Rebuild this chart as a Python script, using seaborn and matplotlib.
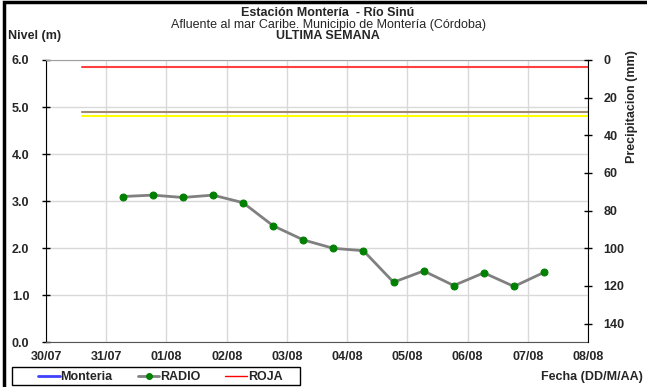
import pandas as pd
import numpy as np
import matplotlib
matplotlib.use('Agg')
import matplotlib.pyplot as plt
import matplotlib.dates as mdates
from matplotlib.lines import Line2D
from matplotlib.patches import Rectangle
import seaborn as sns

# Data
fechas = ['2013-07-31 06:30', '2013-07-31 18:30', '2013-08-01 06:30', '2013-08-01 18:30',
          '2013-08-02 06:30', '2013-08-02 18:30', '2013-08-03 06:30', '2013-08-03 18:30',
          '2013-08-04 06:30', '2013-08-04 18:30', '2013-08-05 06:30', '2013-08-05 18:30',
          '2013-08-06 06:30', '2013-08-06 18:30', '2013-08-07 06:30']
nivel_radio = [3.10, 3.13, 3.08, 3.13, 2.97, 2.48, 2.18, 2.00, 1.95, 1.28, 1.52, 1.21, 1.48, 1.19, 1.49]

umbral_fechas = ['2013-07-30 14:30', '2013-08-08 21:30']
nivel_roja = 5.86
nivel_naranja = 4.90
nivel_amarilla = 4.80

dias = ['2013-07-30', '2013-07-31', '2013-08-01', '2013-08-02', '2013-08-03',
        '2013-08-04', '2013-08-05', '2013-08-06', '2013-08-07', '2013-08-08']
precip_ticks = [0, 20, 40, 60, 80, 100, 120, 140]

df = pd.DataFrame({'Fecha': pd.to_datetime(fechas), 'Nivel': nivel_radio})
umbrales = pd.DataFrame({
    'Fecha': pd.to_datetime(umbral_fechas * 3),
    'Nivel': [nivel_roja] * 2 + [nivel_naranja] * 2 + [nivel_amarilla] * 2,
    'Alerta': ['ROJA'] * 2 + ['NARANJA'] * 2 + ['AMARILLA'] * 2,
})

sns.set_style('white')
plt.rcParams['font.family'] = ['Liberation Sans', 'DejaVu Sans']

fig = plt.figure(figsize=(6.47, 3.87), dpi=100)
ax = fig.add_axes([0.0711, 0.115, 0.8377, 0.730])

# Threshold lines
sns.lineplot(data=umbrales, x='Fecha', y='Nivel', hue='Alerta',
             palette={'ROJA': '#ff4040', 'NARANJA': '#a08a70', 'AMARILLA': '#ffff00'},
             linewidth=1.5, legend=False, ax=ax)

# River level (RADIO)
sns.lineplot(data=df, x='Fecha', y='Nivel', color='#808080', linewidth=2,
             marker='o', markersize=5, markerfacecolor='#008000',
             markeredgecolor='#008000', legend=False, ax=ax)

ax.set_xlim(pd.Timestamp(dias[0]), pd.Timestamp(dias[-1]))
ax.set_ylim(0, 6)
ax.set_xticks(pd.to_datetime(dias))
ax.xaxis.set_major_formatter(mdates.DateFormatter('%d/%m'))
ax.set_yticks(np.arange(0, 6.1, 1.0))
ax.yaxis.set_major_formatter(matplotlib.ticker.FormatStrFormatter('%.1f'))
ax.grid(True, color='#d9d9d9', linewidth=1)
ax.set_xlabel('')
ax.set_ylabel('')
ax.tick_params(axis='both', direction='inout', length=6, width=1, color='black',
               labelsize=9, pad=3)
ax.tick_params(axis='y', pad=9)
for lab in ax.get_xticklabels() + ax.get_yticklabels():
    lab.set_fontweight('bold')
ax.spines['left'].set_color('black')
ax.spines['bottom'].set_color('#555555')
ax.spines['top'].set_color('#a0a0a0')
ax.spines['right'].set_visible(False)

# Precipitation axis (empty, inverted)
ax2 = ax.twinx()
ax2.set_ylim(150, 0)
ax2.set_yticks(precip_ticks)
ax2.tick_params(axis='y', direction='inout', length=6, width=1, color='black',
                labelsize=9, pad=8)
for lab in ax2.get_yticklabels():
    lab.set_fontweight('bold')
for s in ['left', 'top', 'bottom']:
    ax2.spines[s].set_visible(False)
ax2.spines['right'].set_color('black')

# Titles and axis labels
fig.text(0.507, 0.966, 'Estación Montería  - Río Sinú', ha='center', va='center',
         fontsize=9, fontweight='bold')
fig.text(0.507, 0.936, 'Afluente al mar Caribe. Municipio de Montería (Córdoba)',
         ha='center', va='center', fontsize=9)
fig.text(0.507, 0.906, 'ULTIMA SEMANA', ha='center', va='center',
         fontsize=9, fontweight='bold')
fig.text(0.013, 0.906, 'Nivel (m)', ha='left', va='center', fontsize=9, fontweight='bold')
fig.text(0.977, 0.724, 'Precipitacion (mm)', ha='center', va='center', rotation=90,
         fontsize=9, fontweight='bold')
fig.text(0.994, 0.026, 'Fecha (DD/M/AA)', ha='right', va='center',
         fontsize=9, fontweight='bold')

# Legend: entries without frame, box drawn separately
handles = [Line2D([], [], color='#4040ff', linewidth=2),
           Line2D([], [], color='#808080', linewidth=2, marker='o', markersize=4,
                  markerfacecolor='#008000', markeredgecolor='#008000'),
           Line2D([], [], color='#ff0000', linewidth=1)]
fig.legend(handles, ['Monteria', 'RADIO', 'ROJA'], ncol=3,
           loc='center left', bbox_to_anchor=(0.0587, 0.026),
           frameon=False, handlelength=1.75, handletextpad=0.05, borderpad=0,
           borderaxespad=0, columnspacing=2.0, prop={'weight': 'bold', 'size': 9})
fig.patches.append(Rectangle((0.0185, 0.004), 0.445, 0.0465, transform=fig.transFigure,
                             fill=False, edgecolor='black', linewidth=1))

# Outer frame (left and top edges visible)
fig.patches.append(Rectangle((0.006, -0.05), 1.2, 1.045, transform=fig.transFigure,
                             fill=False, edgecolor='black', linewidth=2.5))

fig.savefig('out.png', dpi=100)
